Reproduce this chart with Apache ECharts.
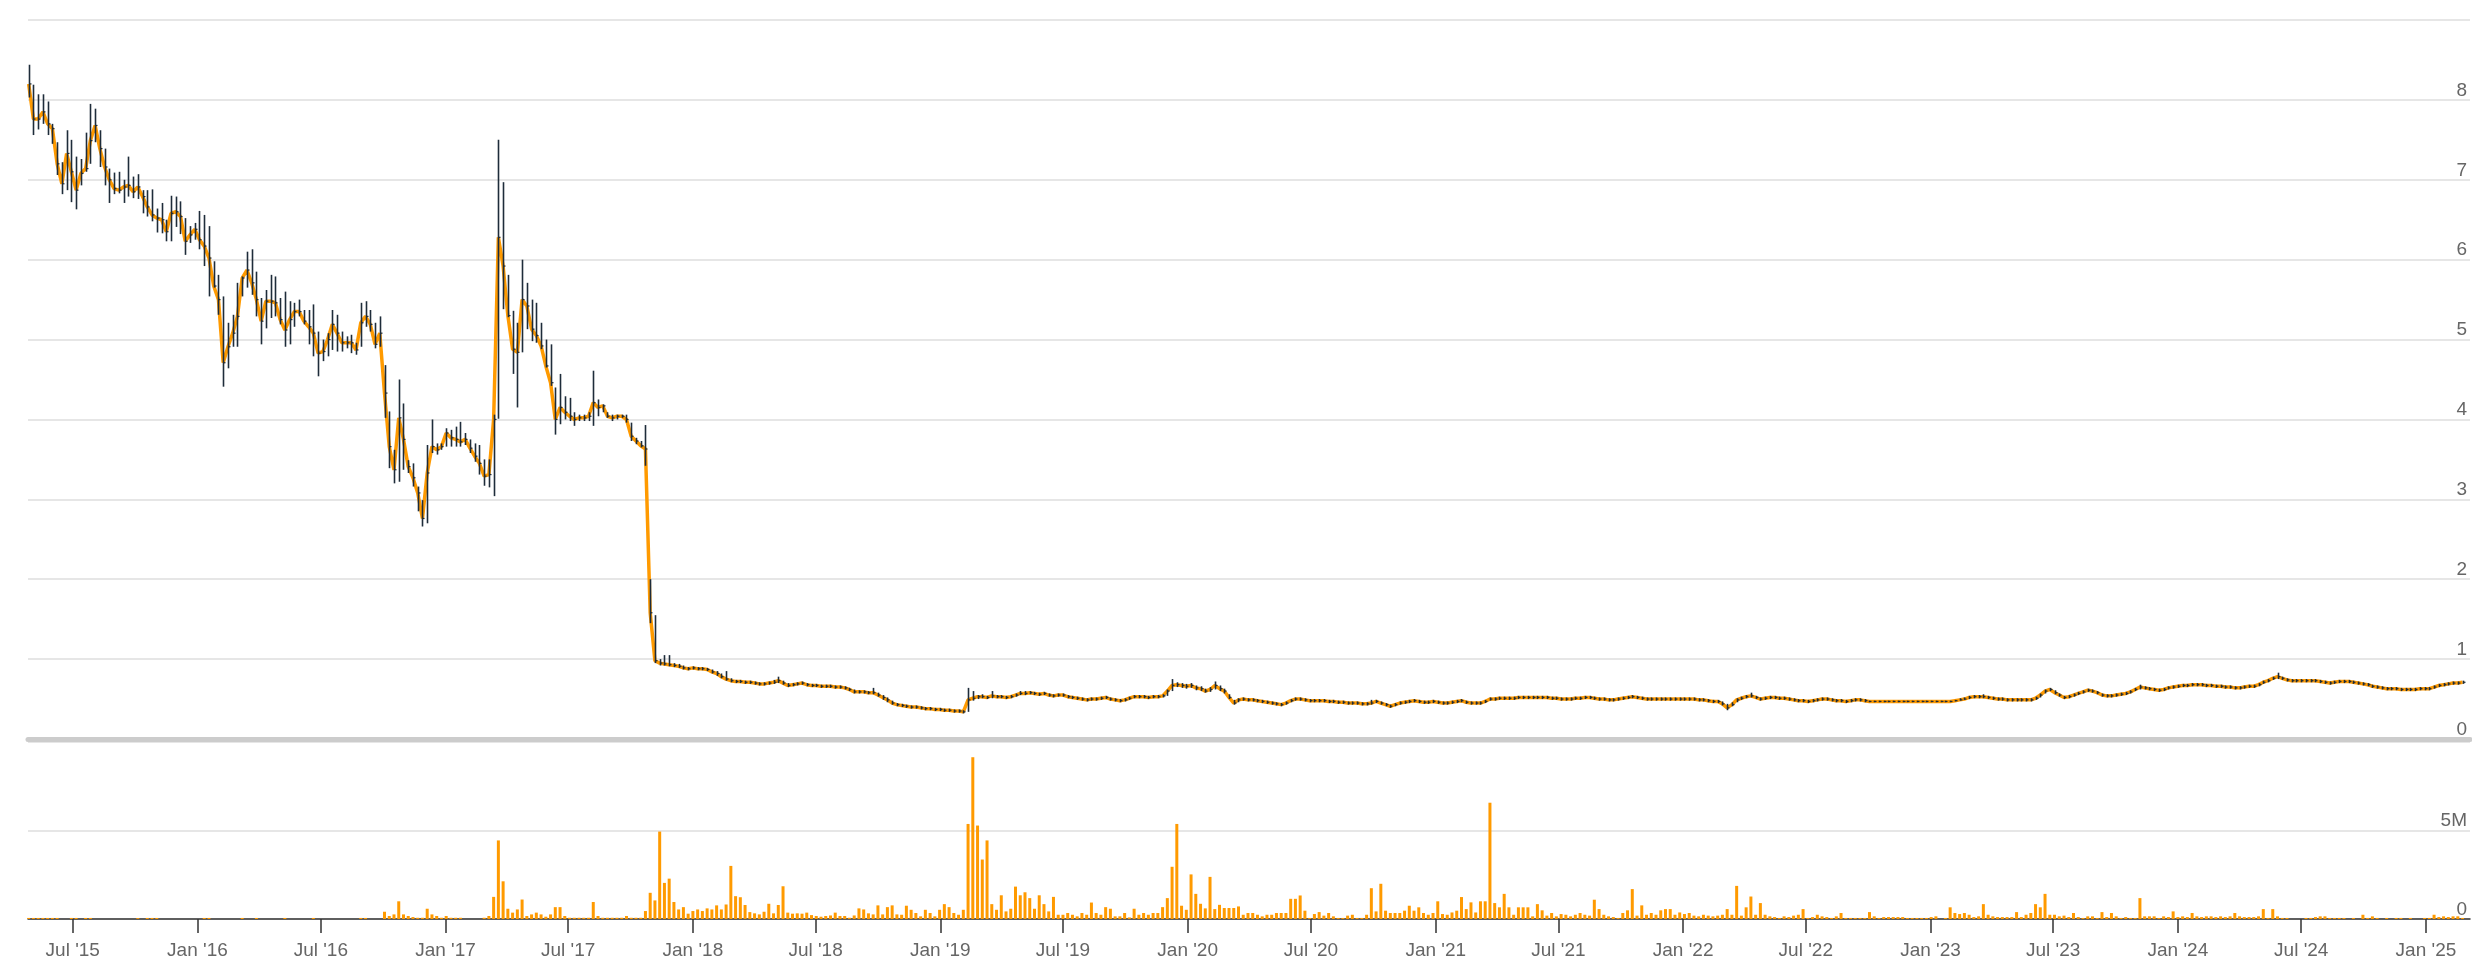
<!DOCTYPE html>
<html>
<head>
<meta charset="utf-8">
<script src="https://cdn.jsdelivr.net/npm/echarts@6/dist/echarts.min.js"></script>
<style>html,body{margin:0;padding:0;background:#fff}#c{width:2472px;height:970px}</style>
</head>
<body>
<div id="c"></div>
<script>
// Weekly bars, first week starting 2015-04-27
const startDate = [2015, 3, 27];

const closeP = [
8.20,7.76,7.76,7.85,7.70,7.64,7.20,6.95,7.33,7.10,
6.87,7.08,7.14,7.49,7.68,7.39,7.16,7.00,6.89,6.87,
6.91,6.93,6.85,6.91,6.79,6.66,6.56,6.52,6.50,6.35,
6.58,6.60,6.54,6.23,6.31,6.38,6.25,6.17,6.02,5.67,
5.50,4.71,4.91,5.08,5.29,5.77,5.87,5.71,5.50,5.23,
5.48,5.48,5.46,5.25,5.12,5.25,5.35,5.35,5.23,5.16,
5.08,4.83,4.85,5.00,5.19,5.08,4.96,4.96,4.96,4.87,
5.21,5.29,5.19,4.94,5.08,4.33,3.66,3.37,4.02,3.75,
3.41,3.27,3.08,2.76,3.33,3.66,3.62,3.66,3.83,3.77,
3.75,3.72,3.75,3.64,3.54,3.45,3.29,3.31,4.00,6.28,
5.92,5.30,4.88,4.84,5.50,5.42,5.13,5.05,4.92,4.67,
4.46,4.00,4.15,4.09,4.04,4.00,4.02,4.02,4.04,4.21,
4.15,4.17,4.04,4.02,4.04,4.04,4.00,3.79,3.73,3.67,
3.63,1.58,0.98,0.95,0.94,0.93,0.92,0.91,0.89,0.88,
0.89,0.88,0.88,0.87,0.84,0.82,0.78,0.75,0.73,0.72,
0.72,0.71,0.71,0.70,0.69,0.69,0.70,0.71,0.73,0.70,
0.67,0.68,0.69,0.70,0.68,0.67,0.67,0.66,0.66,0.66,
0.65,0.65,0.64,0.62,0.59,0.59,0.59,0.58,0.58,0.55,
0.52,0.49,0.45,0.43,0.42,0.41,0.40,0.40,0.39,0.38,
0.38,0.37,0.37,0.36,0.36,0.35,0.35,0.34,0.49,0.51,
0.53,0.53,0.52,0.54,0.53,0.53,0.52,0.53,0.55,0.57,
0.57,0.58,0.57,0.56,0.57,0.55,0.54,0.55,0.55,0.53,
0.52,0.51,0.50,0.49,0.50,0.50,0.51,0.52,0.50,0.49,
0.48,0.49,0.51,0.53,0.53,0.53,0.52,0.53,0.53,0.54,
0.60,0.67,0.68,0.67,0.66,0.67,0.64,0.63,0.60,0.62,
0.67,0.63,0.60,0.52,0.45,0.49,0.50,0.49,0.49,0.48,
0.47,0.46,0.45,0.44,0.43,0.45,0.48,0.50,0.50,0.49,
0.48,0.48,0.48,0.48,0.47,0.47,0.46,0.46,0.45,0.45,
0.45,0.44,0.44,0.45,0.47,0.45,0.43,0.41,0.43,0.45,
0.46,0.47,0.48,0.47,0.46,0.46,0.47,0.46,0.45,0.45,
0.46,0.47,0.48,0.46,0.45,0.45,0.45,0.47,0.50,0.50,
0.51,0.51,0.51,0.51,0.52,0.52,0.52,0.52,0.52,0.52,
0.52,0.51,0.51,0.50,0.50,0.50,0.51,0.51,0.52,0.52,
0.51,0.50,0.50,0.49,0.49,0.50,0.51,0.52,0.53,0.52,
0.51,0.50,0.50,0.50,0.50,0.50,0.50,0.50,0.50,0.50,
0.50,0.50,0.49,0.49,0.48,0.47,0.47,0.44,0.39,0.43,
0.49,0.51,0.53,0.54,0.52,0.50,0.51,0.52,0.52,0.51,
0.51,0.50,0.49,0.48,0.48,0.47,0.48,0.49,0.50,0.50,
0.49,0.48,0.48,0.47,0.48,0.49,0.49,0.48,0.47,0.47,
0.47,0.47,0.47,0.47,0.47,0.47,0.47,0.47,0.47,0.47,
0.47,0.47,0.47,0.47,0.47,0.47,0.48,0.49,0.50,0.52,
0.53,0.53,0.53,0.52,0.51,0.50,0.50,0.49,0.49,0.49,
0.49,0.49,0.49,0.51,0.55,0.60,0.62,0.58,0.55,0.52,
0.53,0.55,0.57,0.59,0.61,0.60,0.58,0.55,0.54,0.54,
0.55,0.56,0.57,0.59,0.62,0.65,0.64,0.63,0.62,0.61,
0.62,0.64,0.65,0.66,0.67,0.67,0.68,0.68,0.68,0.67,
0.67,0.66,0.66,0.65,0.65,0.64,0.64,0.65,0.66,0.66,
0.68,0.71,0.73,0.76,0.78,0.76,0.74,0.73,0.73,0.73,
0.73,0.73,0.73,0.72,0.71,0.70,0.71,0.72,0.72,0.72,
0.71,0.70,0.69,0.68,0.66,0.65,0.64,0.63,0.63,0.63,
0.62,0.62,0.62,0.62,0.63,0.63,0.63,0.65,0.67,0.68,
0.69,0.70,0.70,0.71
];

const highP = [
8.44,8.19,8.07,8.07,7.98,7.70,7.47,7.22,7.62,7.50,
7.29,7.26,7.59,7.95,7.89,7.62,7.39,7.14,7.09,7.10,
7.00,7.29,7.04,7.07,6.87,6.87,6.88,6.64,6.71,6.50,
6.80,6.79,6.73,6.52,6.42,6.46,6.61,6.56,6.42,5.98,
5.81,5.54,5.21,5.31,5.71,5.79,6.10,6.13,5.85,5.52,
5.62,5.81,5.79,5.52,5.60,5.48,5.46,5.50,5.37,5.37,
5.44,5.10,5.00,5.08,5.37,5.31,5.10,5.04,5.06,4.96,
5.46,5.48,5.37,5.21,5.29,4.68,4.10,3.62,4.50,4.20,
3.49,3.45,3.16,2.99,3.68,4.00,3.70,3.70,3.89,3.87,
3.91,3.97,3.83,3.75,3.70,3.68,3.50,3.50,4.06,7.50,
6.97,5.81,5.36,5.21,6.00,5.71,5.50,5.46,5.21,5.00,
4.94,4.40,4.57,4.29,4.27,4.09,4.06,4.06,4.09,4.61,
4.25,4.19,4.09,4.06,4.06,4.06,4.06,3.96,3.77,3.73,
3.93,2.00,1.55,1.00,1.05,1.05,0.95,0.94,0.92,0.90,
0.91,0.90,0.90,0.89,0.87,0.85,0.82,0.85,0.76,0.74,
0.74,0.73,0.73,0.72,0.71,0.71,0.72,0.74,0.78,0.73,
0.70,0.70,0.71,0.72,0.70,0.69,0.69,0.68,0.68,0.68,
0.67,0.67,0.66,0.64,0.62,0.61,0.61,0.60,0.64,0.58,
0.55,0.52,0.48,0.45,0.44,0.43,0.42,0.42,0.41,0.40,
0.40,0.39,0.39,0.38,0.38,0.37,0.37,0.36,0.64,0.60,
0.55,0.56,0.54,0.60,0.55,0.55,0.54,0.55,0.57,0.60,
0.60,0.60,0.59,0.58,0.59,0.57,0.56,0.57,0.57,0.55,
0.54,0.53,0.52,0.51,0.52,0.52,0.53,0.54,0.52,0.51,
0.50,0.51,0.53,0.55,0.55,0.55,0.54,0.55,0.55,0.56,
0.62,0.75,0.71,0.70,0.69,0.70,0.67,0.66,0.63,0.65,
0.72,0.67,0.63,0.56,0.49,0.51,0.52,0.51,0.51,0.50,
0.49,0.48,0.47,0.46,0.45,0.47,0.50,0.52,0.52,0.51,
0.50,0.50,0.50,0.50,0.49,0.49,0.48,0.48,0.47,0.47,
0.47,0.46,0.46,0.49,0.49,0.47,0.45,0.43,0.45,0.47,
0.48,0.49,0.50,0.49,0.48,0.48,0.49,0.48,0.47,0.47,
0.48,0.49,0.50,0.48,0.47,0.47,0.47,0.49,0.52,0.52,
0.53,0.53,0.53,0.53,0.54,0.54,0.54,0.54,0.54,0.54,
0.54,0.53,0.53,0.52,0.52,0.52,0.53,0.53,0.54,0.54,
0.53,0.52,0.52,0.51,0.51,0.52,0.53,0.54,0.55,0.54,
0.53,0.52,0.52,0.52,0.52,0.52,0.52,0.52,0.52,0.52,
0.52,0.52,0.51,0.51,0.50,0.49,0.49,0.47,0.44,0.46,
0.51,0.53,0.55,0.58,0.54,0.52,0.53,0.54,0.54,0.53,
0.53,0.52,0.51,0.50,0.50,0.49,0.50,0.51,0.52,0.52,
0.51,0.50,0.50,0.49,0.50,0.51,0.51,0.50,0.48,0.48,
0.48,0.48,0.48,0.48,0.48,0.48,0.48,0.48,0.48,0.48,
0.48,0.48,0.48,0.48,0.48,0.48,0.49,0.51,0.52,0.54,
0.55,0.55,0.56,0.54,0.53,0.52,0.52,0.51,0.51,0.51,
0.51,0.51,0.51,0.53,0.57,0.62,0.64,0.61,0.57,0.54,
0.55,0.57,0.59,0.61,0.63,0.62,0.60,0.57,0.56,0.56,
0.57,0.58,0.59,0.61,0.64,0.68,0.66,0.65,0.64,0.63,
0.64,0.66,0.67,0.68,0.69,0.69,0.70,0.70,0.70,0.69,
0.69,0.68,0.68,0.67,0.67,0.66,0.66,0.67,0.68,0.68,
0.70,0.73,0.75,0.78,0.83,0.78,0.76,0.75,0.75,0.75,
0.75,0.75,0.75,0.74,0.73,0.72,0.73,0.74,0.74,0.74,
0.73,0.72,0.71,0.70,0.68,0.67,0.66,0.65,0.65,0.65,
0.64,0.64,0.64,0.64,0.65,0.65,0.65,0.67,0.69,0.70,
0.71,0.72,0.72,0.73
];

const lowP = [
8.03,7.56,7.63,7.70,7.56,7.45,7.06,6.82,6.87,6.72,
6.63,6.93,7.10,7.20,7.47,7.16,6.93,6.71,6.82,6.83,
6.71,6.79,6.77,6.76,6.58,6.54,6.48,6.34,6.33,6.23,
6.23,6.41,6.32,6.06,6.21,6.25,6.13,5.92,5.54,5.65,
5.31,4.41,4.64,4.91,4.91,5.54,5.65,5.56,5.29,4.94,
5.14,5.27,5.29,5.19,4.91,4.94,5.16,5.29,5.19,4.94,
4.79,4.54,4.73,4.79,4.87,4.85,4.85,4.89,4.83,4.81,
4.91,5.16,5.10,4.89,4.91,4.02,3.39,3.20,3.22,3.37,
3.33,3.16,2.85,2.66,2.70,3.58,3.56,3.62,3.66,3.66,
3.66,3.66,3.68,3.58,3.47,3.31,3.17,3.15,3.04,4.01,
5.38,5.28,4.57,4.15,4.84,5.13,4.98,4.96,4.88,4.65,
4.42,3.81,3.94,4.00,3.98,3.92,3.98,3.98,3.98,3.92,
4.04,4.09,4.02,3.98,4.00,4.02,3.96,3.73,3.69,3.65,
3.42,1.45,0.95,0.92,0.92,0.91,0.90,0.89,0.87,0.86,
0.87,0.86,0.86,0.85,0.82,0.79,0.76,0.73,0.71,0.70,
0.70,0.69,0.69,0.68,0.67,0.67,0.68,0.69,0.70,0.68,
0.65,0.66,0.67,0.68,0.66,0.65,0.65,0.64,0.64,0.64,
0.63,0.63,0.62,0.60,0.57,0.57,0.57,0.56,0.56,0.53,
0.49,0.46,0.43,0.41,0.40,0.39,0.38,0.38,0.37,0.36,
0.36,0.35,0.35,0.34,0.34,0.33,0.33,0.32,0.34,0.48,
0.50,0.51,0.50,0.51,0.51,0.51,0.50,0.51,0.53,0.55,
0.55,0.56,0.55,0.54,0.55,0.53,0.52,0.53,0.53,0.51,
0.50,0.49,0.48,0.47,0.48,0.48,0.49,0.50,0.48,0.47,
0.46,0.47,0.49,0.51,0.51,0.51,0.50,0.51,0.51,0.52,
0.54,0.60,0.65,0.64,0.63,0.64,0.61,0.60,0.58,0.59,
0.62,0.60,0.57,0.50,0.43,0.46,0.48,0.47,0.47,0.46,
0.45,0.44,0.43,0.42,0.41,0.43,0.46,0.48,0.48,0.47,
0.46,0.46,0.46,0.46,0.45,0.45,0.44,0.44,0.43,0.43,
0.43,0.42,0.42,0.43,0.45,0.43,0.41,0.39,0.41,0.43,
0.44,0.45,0.46,0.45,0.44,0.44,0.45,0.44,0.43,0.43,
0.44,0.45,0.46,0.44,0.43,0.43,0.43,0.45,0.48,0.48,
0.49,0.49,0.49,0.49,0.50,0.50,0.50,0.50,0.50,0.50,
0.50,0.49,0.49,0.48,0.48,0.48,0.49,0.49,0.50,0.50,
0.49,0.48,0.48,0.47,0.47,0.48,0.49,0.50,0.51,0.50,
0.49,0.48,0.48,0.48,0.48,0.48,0.48,0.48,0.48,0.48,
0.48,0.48,0.47,0.47,0.46,0.45,0.45,0.42,0.36,0.41,
0.46,0.49,0.51,0.52,0.50,0.48,0.49,0.50,0.50,0.49,
0.49,0.48,0.47,0.46,0.46,0.45,0.46,0.47,0.48,0.48,
0.47,0.46,0.46,0.45,0.46,0.47,0.47,0.46,0.46,0.46,
0.46,0.46,0.46,0.46,0.46,0.46,0.46,0.46,0.46,0.46,
0.46,0.46,0.46,0.46,0.46,0.46,0.47,0.48,0.49,0.50,
0.51,0.51,0.51,0.50,0.49,0.48,0.48,0.47,0.47,0.47,
0.47,0.47,0.47,0.49,0.52,0.57,0.60,0.56,0.53,0.50,
0.51,0.53,0.55,0.57,0.59,0.58,0.56,0.53,0.52,0.52,
0.53,0.54,0.55,0.57,0.60,0.62,0.62,0.61,0.60,0.59,
0.60,0.62,0.63,0.64,0.65,0.65,0.66,0.66,0.66,0.65,
0.65,0.64,0.64,0.63,0.63,0.62,0.62,0.63,0.64,0.64,
0.66,0.69,0.71,0.74,0.75,0.74,0.72,0.71,0.71,0.71,
0.71,0.71,0.71,0.70,0.69,0.68,0.69,0.70,0.70,0.70,
0.69,0.68,0.67,0.66,0.64,0.63,0.62,0.61,0.61,0.61,
0.60,0.60,0.60,0.60,0.61,0.61,0.61,0.63,0.65,0.66,
0.67,0.68,0.68,0.69
];

// weekly volume, millions of shares
const volumeM = [
0.06,0.06,0.06,0.06,0.06,0.06,0.06,0,0,0.06,
0.06,0,0.06,0.06,0,0,0,0,0,0,
0,0,0,0.05,0,0.06,0.06,0.06,0,0,
0,0,0,0,0,0,0,0.06,0.06,0,
0,0,0,0,0,0.06,0,0,0.06,0,
0,0,0,0,0.06,0,0,0,0,0,
0.06,0,0,0,0,0,0,0,0,0,
0.06,0.06,0,0,0,0.41,0.17,0.26,1.00,0.26,
0.17,0.11,0.07,0.07,0.58,0.26,0.17,0.07,0.17,0.07,
0.07,0.07,0,0,0,0,0.07,0.17,1.25,4.44,
2.13,0.58,0.36,0.54,1.10,0.17,0.26,0.36,0.26,0.13,
0.26,0.67,0.67,0.17,0.07,0.07,0.07,0.07,0.07,0.96,
0.17,0.07,0.07,0.07,0.07,0.07,0.17,0.07,0.07,0.07,
0.45,1.48,1.05,4.94,2.04,2.28,0.96,0.54,0.67,0.30,
0.45,0.54,0.45,0.60,0.54,0.77,0.54,0.82,3.00,1.29,
1.23,0.79,0.39,0.32,0.26,0.41,0.86,0.32,0.79,1.85,
0.36,0.30,0.32,0.30,0.36,0.22,0.17,0.13,0.17,0.20,
0.36,0.17,0.17,0.07,0.20,0.60,0.54,0.32,0.26,0.77,
0.26,0.67,0.77,0.26,0.24,0.75,0.52,0.34,0.15,0.52,
0.34,0.15,0.52,0.84,0.67,0.34,0.24,0.52,5.37,9.14,
5.28,3.36,4.44,0.84,0.52,1.34,0.43,0.58,1.83,1.34,
1.51,1.18,0.58,1.34,0.84,0.43,1.25,0.24,0.24,0.34,
0.24,0.15,0.34,0.24,0.93,0.34,0.24,0.67,0.58,0.15,
0.15,0.34,0.09,0.58,0.24,0.34,0.24,0.34,0.34,0.67,
1.18,2.95,5.37,0.75,0.52,2.52,1.42,0.86,0.60,2.38,
0.56,0.80,0.62,0.62,0.62,0.71,0.24,0.34,0.34,0.24,
0.15,0.24,0.24,0.34,0.34,0.34,1.14,1.14,1.33,0.47,
0.06,0.28,0.39,0.19,0.34,0.15,0.06,0.06,0.19,0.24,
0.06,0.06,0.24,1.74,0.43,1.99,0.47,0.34,0.34,0.34,
0.47,0.75,0.47,0.66,0.34,0.24,0.34,1.00,0.28,0.24,
0.37,0.47,1.24,0.56,0.94,0.37,1.00,1.00,6.57,0.90,
0.66,1.42,0.66,0.24,0.66,0.66,0.66,0.15,0.84,0.49,
0.19,0.34,0.15,0.28,0.24,0.15,0.24,0.34,0.24,0.19,
1.09,0.56,0.24,0.15,0.11,0.06,0.34,0.49,1.69,0.19,
0.77,0.24,0.34,0.24,0.49,0.56,0.56,0.24,0.37,0.28,
0.34,0.19,0.15,0.24,0.19,0.15,0.19,0.24,0.56,0.24,
1.87,0.19,0.66,1.27,0.24,0.90,0.24,0.15,0.11,0.06,
0.15,0.11,0.19,0.24,0.56,0.06,0.11,0.24,0.15,0.11,
0.06,0.15,0.34,0.06,0.06,0.06,0.06,0.06,0.39,0.15,
0.06,0.11,0.11,0.11,0.11,0.11,0.06,0.06,0.06,0.06,
0.06,0.11,0.15,0,0.06,0.66,0.34,0.28,0.34,0.24,
0.11,0.15,0.84,0.24,0.15,0.11,0.11,0.11,0.11,0.39,
0.11,0.24,0.34,0.84,0.66,1.42,0.24,0.24,0.15,0.19,
0.11,0.34,0.11,0.06,0.15,0.15,0.06,0.39,0.11,0.34,
0.15,0.06,0.11,0.06,0.06,1.18,0.15,0.15,0.15,0.06,
0.15,0.11,0.43,0.11,0.15,0.11,0.34,0.15,0.11,0.15,
0.15,0.11,0.15,0.11,0.15,0.34,0.15,0.11,0.11,0.11,
0.15,0.56,0.06,0.56,0.15,0.06,0.06,0,0,0,
0.06,0.06,0.11,0.15,0.15,0.06,0.06,0.06,0.06,0,
0.06,0,0.24,0.06,0.15,0.06,0,0.06,0,0.06,
0.06,0,0.06,0,0,0.06,0.06,0.24,0.11,0.15,
0.11,0.15,0.15,0.06
];

const tickDates = ['2015-07-01','2016-01-01','2016-07-01','2017-01-01','2017-07-01','2018-01-01','2018-07-01','2019-01-01','2019-07-01','2020-01-01','2020-07-01','2021-01-01','2021-07-01','2022-01-01','2022-07-01','2023-01-01','2023-07-01','2024-01-01','2024-07-01','2025-01-01'];
const tickLabels = ["Jul '15","Jan '16","Jul '16","Jan '17","Jul '17","Jan '18","Jul '18","Jan '19","Jul '19","Jan '20","Jul '20","Jan '21","Jul '21","Jan '22","Jul '22","Jan '23","Jul '23","Jan '24","Jul '24","Jan '25"];

const axisMin = '2015-04-26';
const axisMax = '2025-03-07';

function parseD(s){ const p = s.split('-').map(Number); return Date.UTC(p[0], p[1]-1, p[2]); }
const tickVals = tickDates.map(parseD);
const labelMap = {};
tickVals.forEach((v,i)=>{ labelMap[v] = tickLabels[i]; });

const times = closeP.map((_, i) => Date.UTC(startDate[0], startDate[1], startDate[2] + 7*i));
const ohlcData = times.map((t,i) => [t, lowP[i], highP[i], closeP[i]]);
const lineData = times.map((t,i) => [t, closeP[i]]);
const volData = times.map((t,i) => [t, volumeM[i]*1e6]);

const FONT = '"Liberation Sans", Arial, Helvetica, sans-serif';
const chart = echarts.init(document.getElementById('c'), null, {renderer:'canvas'});
chart.setOption({
  animation: false,
  backgroundColor: '#ffffff',
  grid: [
    {left: 28, right: 2, top: 20, height: 719},
    {left: 28, right: 2, top: 742, height: 177}
  ],
  xAxis: [
    {type:'value', gridIndex:0, min: parseD(axisMin), max: parseD(axisMax), scale:true,
     axisLabel:{show:false}, axisTick:{show:false}, splitLine:{show:false},
     axisLine:{show:true, onZero:false, lineStyle:{color:'#cccccc', width:5}}},
    {type:'value', gridIndex:1, min: parseD(axisMin), max: parseD(axisMax), scale:true,
     splitLine:{show:false},
     axisLine:{show:true, onZero:false, lineStyle:{color:'#333333', width:1.5}},
     axisTick:{show:true, customValues: tickVals, length:14, lineStyle:{color:'#333333', width:1.5}},
     axisLabel:{show:true, customValues: tickVals, margin:22, color:'#666666', fontSize:19, fontFamily:FONT,
       formatter: v => labelMap[v] || ''}}
  ],
  yAxis: [
    {type:'value', gridIndex:0, min:0, max:9, interval:1, position:'right',
     axisLine:{show:false}, axisTick:{show:false},
     axisLabel:{inside:true, showMaxLabel:false, verticalAlign:'bottom', margin:3, color:'#666666', fontSize:19, fontFamily:FONT},
     splitLine:{show:true, lineStyle:{color:'#e6e6e6', width:2}}},
    {type:'value', gridIndex:1, min:0, max:10000000, interval:5000000, position:'right',
     axisLine:{show:false}, axisTick:{show:false},
     axisLabel:{inside:true, showMaxLabel:false, verticalAlign:'bottom', margin:3, color:'#666666', fontSize:19, fontFamily:FONT,
       formatter: v => v === 0 ? '0' : (v/1e6) + 'M'},
     splitLine:{show:true, lineStyle:{color:'#e6e6e6', width:2}}}
  ],
  series: [
    {type:'line', xAxisIndex:0, yAxisIndex:0, data: lineData, showSymbol:false,
     lineStyle:{color:'#ff9a00', width:3.5}, z:2},
    {type:'custom', xAxisIndex:0, yAxisIndex:0, data: ohlcData, z:3,
     renderItem: function(params, api){
       const t = api.value(0);
       const lo = api.coord([t, api.value(1)]);
       const hi = api.coord([t, api.value(2)]);
       const cl = api.coord([t, api.value(3)]);
       const x = Math.round(lo[0]) + 0.5;
       return {type:'group', children:[
         {type:'line', shape:{x1:x, y1:lo[1], x2:x, y2:hi[1]}, style:{stroke:'#1e2c3a', lineWidth:1.6}},
         {type:'line', shape:{x1:x, y1:cl[1], x2:x+2, y2:cl[1]}, style:{stroke:'#1e2c3a', lineWidth:1.2}}
       ]};
     }},
    {type:'bar', xAxisIndex:1, yAxisIndex:1, data: volData, barWidth:3,
     itemStyle:{color:'#ff9a00'}, z:2}
  ]
});
</script>
</body>
</html>
